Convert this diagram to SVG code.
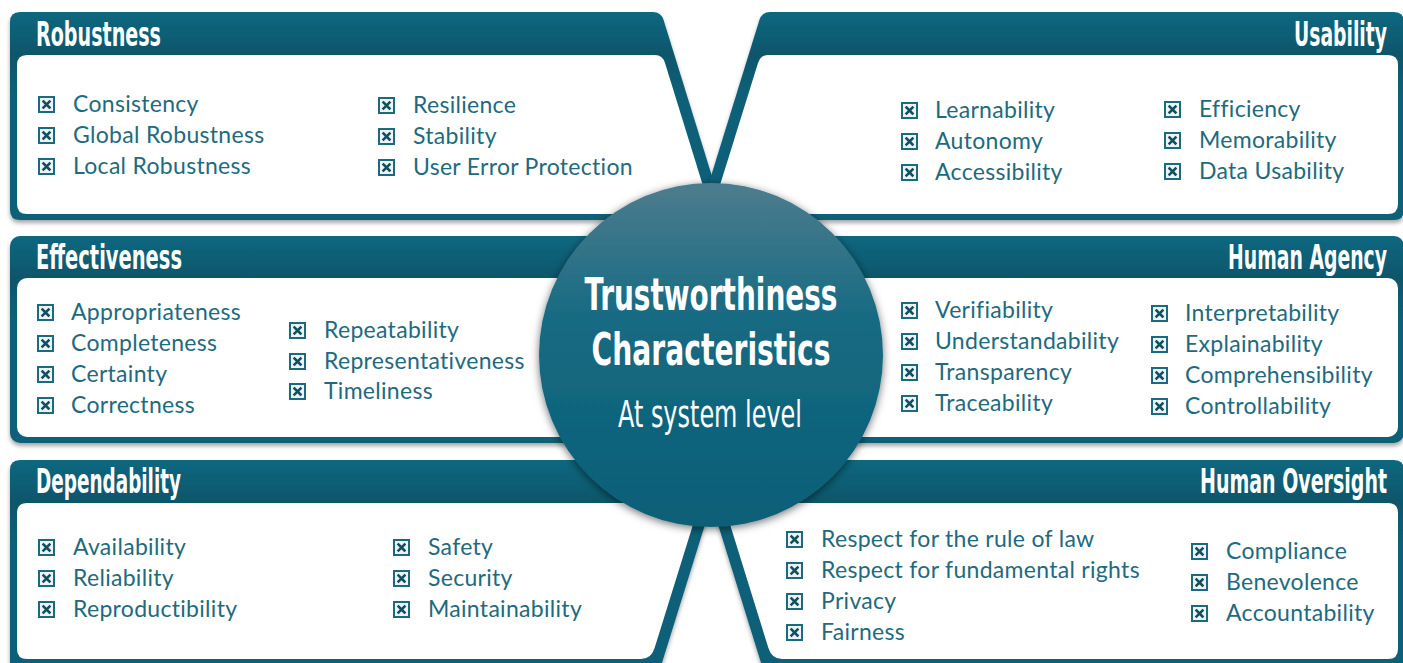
<svg xmlns="http://www.w3.org/2000/svg" xmlns:xlink="http://www.w3.org/1999/xlink" width="1403" height="663" viewBox="0 0 1403 663">
<defs>
<linearGradient id="gHead" x1="0" y1="0" x2="0" y2="1">
<stop offset="0" stop-color="#0d6880"/>
<stop offset="0.2" stop-color="#0a566b"/>
<stop offset="0.4" stop-color="#0b6078"/>
<stop offset="1" stop-color="#0b6078"/>
</linearGradient>
<linearGradient id="gCircle" x1="0" y1="0" x2="0" y2="1">
<stop offset="0" stop-color="#4d7c8e"/>
<stop offset="0.4" stop-color="#166a82"/>
<stop offset="1" stop-color="#0a5f77"/>
</linearGradient>
<filter id="shPanel" x="-5%" y="-5%" width="110%" height="115%">
<feDropShadow dx="0" dy="3" stdDeviation="2" flood-color="#000" flood-opacity="0.35"/>
</filter>
<filter id="shCircle" x="-10%" y="-10%" width="120%" height="120%">
<feDropShadow dx="0" dy="2" stdDeviation="4" flood-color="#000" flood-opacity="0.55"/>
</filter>
<symbol id="cb" viewBox="0 0 17 17" overflow="visible">
<rect x="1" y="1" width="15" height="15" fill="#eef4f5" stroke="#1b6a7e" stroke-width="2"/>
<path d="M5.5,5.5 L11.5,11.5 M11.5,5.5 L5.5,11.5" stroke="#124f60" stroke-width="2.5" stroke-linecap="square"/>
</symbol>
</defs>
<style>
.outer{fill:url(#gHead);filter:url(#shPanel)}
.inner{fill:#ffffff}
.hd{font-family:"DejaVu Sans Condensed","DejaVu Sans",sans-serif;font-weight:bold;font-size:33px;fill:#ffffff}
.it{font-family:Lato,"Open Sans",sans-serif;font-size:23px;letter-spacing:0.3px;fill:#1e6a7e}
.ct{font-family:"DejaVu Sans Condensed","DejaVu Sans",sans-serif;font-weight:bold;font-size:44px;fill:#ffffff}
.cs{font-family:"DejaVu Sans Condensed","DejaVu Sans",sans-serif;font-size:38px;fill:#ffffff}
</style>
<rect width="1403" height="663" fill="#ffffff"/>

<g id="robustness">
<path class="outer" d="M20,12 H653 Q661,12 663.6,20 L724,215 V220 H20 Q10,220 10,210 V22 Q10,12 20,12 Z"/>
<path class="inner" d="M27,55 H655 Q662.5,55 665,63 L711.7,214 H27 Q17,214 17,204 V65 Q17,55 27,55 Z"/>
<text class="hd" transform="translate(36,46) scale(0.65,1)" x="0" y="0" textLength="192.3" lengthAdjust="spacingAndGlyphs">Robustness</text>
<use href="#cb" x="38" y="96" width="17" height="17"/><text class="it" x="73" y="112">Consistency</text>
<use href="#cb" x="38" y="127" width="17" height="17"/><text class="it" x="73" y="143">Global Robustness</text>
<use href="#cb" x="38" y="158" width="17" height="17"/><text class="it" x="73" y="174">Local Robustness</text>
<use href="#cb" x="378" y="97" width="17" height="17"/><text class="it" x="413" y="113">Resilience</text>
<use href="#cb" x="378" y="128" width="17" height="17"/><text class="it" x="413" y="144">Stability</text>
<use href="#cb" x="378" y="159" width="17" height="17"/><text class="it" x="413" y="175">User Error Protection</text>
</g>

<g id="usability">
<path class="outer" d="M770,12 H1394 Q1404,12 1404,22 V210 Q1404,220 1394,220 H699 V215 L759.4,20 Q762,12 770,12 Z"/>
<path class="inner" d="M768,55 H1388 Q1398,55 1398,65 V204 Q1398,214 1388,214 H711 L758,63 Q760.5,55 768,55 Z"/>
<text class="hd" transform="translate(1294,46) scale(0.65,1)" x="0" y="0" textLength="143.1" lengthAdjust="spacingAndGlyphs">Usability</text>
<use href="#cb" x="901" y="102" width="17" height="17"/><text class="it" x="935" y="118">Learnability</text>
<use href="#cb" x="901" y="133" width="17" height="17"/><text class="it" x="935" y="149">Autonomy</text>
<use href="#cb" x="901" y="164" width="17" height="17"/><text class="it" x="935" y="180">Accessibility</text>
<use href="#cb" x="1164" y="101" width="17" height="17"/><text class="it" x="1199" y="117">Efficiency</text>
<use href="#cb" x="1164" y="132" width="17" height="17"/><text class="it" x="1199" y="148">Memorability</text>
<use href="#cb" x="1164" y="163" width="17" height="17"/><text class="it" x="1199" y="179">Data Usability</text>
</g>

<g id="effectiveness">
<rect class="outer" x="10" y="236" width="720" height="207" rx="10"/>
<rect class="inner" x="17" y="278" width="700" height="159" rx="10"/>
<text class="hd" transform="translate(36,269) scale(0.65,1)" x="0" y="0" textLength="224.6" lengthAdjust="spacingAndGlyphs">Effectiveness</text>
<use href="#cb" x="37" y="304" width="17" height="17"/><text class="it" x="71" y="320">Appropriateness</text>
<use href="#cb" x="37" y="335" width="17" height="17"/><text class="it" x="71" y="351">Completeness</text>
<use href="#cb" x="37" y="366" width="17" height="17"/><text class="it" x="71" y="382">Certainty</text>
<use href="#cb" x="37" y="397" width="17" height="17"/><text class="it" x="71" y="413">Correctness</text>
<use href="#cb" x="289" y="322" width="17" height="17"/><text class="it" x="324" y="338">Repeatability</text>
<use href="#cb" x="289" y="353" width="17" height="17"/><text class="it" x="324" y="369">Representativeness</text>
<use href="#cb" x="289" y="383" width="17" height="17"/><text class="it" x="324" y="399">Timeliness</text>
</g>

<g id="human-agency">
<rect class="outer" x="700" y="236" width="704" height="207" rx="10"/>
<rect class="inner" x="710" y="278" width="688" height="159" rx="10"/>
<text class="hd" transform="translate(1228,269) scale(0.65,1)" x="0" y="0" textLength="244.6" lengthAdjust="spacingAndGlyphs">Human Agency</text>
<use href="#cb" x="901" y="302" width="17" height="17"/><text class="it" x="935" y="318">Verifiability</text>
<use href="#cb" x="901" y="333" width="17" height="17"/><text class="it" x="935" y="349">Understandability</text>
<use href="#cb" x="901" y="364" width="17" height="17"/><text class="it" x="935" y="380">Transparency</text>
<use href="#cb" x="901" y="395" width="17" height="17"/><text class="it" x="935" y="411">Traceability</text>
<use href="#cb" x="1151" y="305" width="17" height="17"/><text class="it" x="1185" y="321">Interpretability</text>
<use href="#cb" x="1151" y="336" width="17" height="17"/><text class="it" x="1185" y="352">Explainability</text>
<use href="#cb" x="1151" y="367" width="17" height="17"/><text class="it" x="1185" y="383">Comprehensibility</text>
<use href="#cb" x="1151" y="398" width="17" height="17"/><text class="it" x="1185" y="414">Controllability</text>
</g>

<g id="dependability">
<path class="outer" d="M20,460 H712 V515 H708 L660.4,668 H10 V470 Q10,460 20,460 Z"/>
<path class="inner" d="M27,503 H712 V515 H696 L654.6,648 Q651.2,659 641,659 H27 Q17,659 17,649 V513 Q17,503 27,503 Z"/>
<text class="hd" transform="translate(36,493) scale(0.65,1)" x="0" y="0" textLength="223.1" lengthAdjust="spacingAndGlyphs">Dependability</text>
<use href="#cb" x="38" y="539" width="17" height="17"/><text class="it" x="73" y="555">Availability</text>
<use href="#cb" x="38" y="570" width="17" height="17"/><text class="it" x="73" y="586">Reliability</text>
<use href="#cb" x="38" y="601" width="17" height="17"/><text class="it" x="73" y="617">Reproductibility</text>
<use href="#cb" x="393" y="539" width="17" height="17"/><text class="it" x="428" y="555">Safety</text>
<use href="#cb" x="393" y="570" width="17" height="17"/><text class="it" x="428" y="586">Security</text>
<use href="#cb" x="393" y="601" width="17" height="17"/><text class="it" x="428" y="617">Maintainability</text>
</g>

<g id="human-oversight">
<path class="outer" d="M708,460 H1394 Q1404,460 1404,470 V668 H762.6 L715.1,515 H708 Z"/>
<path class="inner" d="M708,503 H1388 Q1398,503 1398,513 V649 Q1398,659 1388,659 H782 Q771.8,659 768.4,648 L727.1,515 H708 Z"/>
<text class="hd" transform="translate(1200,493) scale(0.65,1)" x="0" y="0" textLength="287.7" lengthAdjust="spacingAndGlyphs">Human Oversight</text>
<use href="#cb" x="786" y="531" width="17" height="17"/><text class="it" x="821" y="547">Respect for the rule of law</text>
<use href="#cb" x="786" y="562" width="17" height="17"/><text class="it" x="821" y="578">Respect for fundamental rights</text>
<use href="#cb" x="786" y="593" width="17" height="17"/><text class="it" x="821" y="609">Privacy</text>
<use href="#cb" x="786" y="624" width="17" height="17"/><text class="it" x="821" y="640">Fairness</text>
<use href="#cb" x="1191" y="543" width="17" height="17"/><text class="it" x="1226" y="559">Compliance</text>
<use href="#cb" x="1191" y="574" width="17" height="17"/><text class="it" x="1226" y="590">Benevolence</text>
<use href="#cb" x="1191" y="605" width="17" height="17"/><text class="it" x="1226" y="621">Accountability</text>
</g>

<g id="connectors"/>

<g id="center">
<circle cx="711" cy="355" r="172" fill="url(#gCircle)" filter="url(#shCircle)"/>
<text class="ct" x="711" y="310" text-anchor="middle" textLength="253" lengthAdjust="spacingAndGlyphs">Trustworthiness</text>
<text class="ct" x="711" y="365" text-anchor="middle" textLength="239" lengthAdjust="spacingAndGlyphs">Characteristics</text>
<text class="cs" x="710" y="427" text-anchor="middle" textLength="184" lengthAdjust="spacingAndGlyphs">At system level</text>
</g>
</svg>
